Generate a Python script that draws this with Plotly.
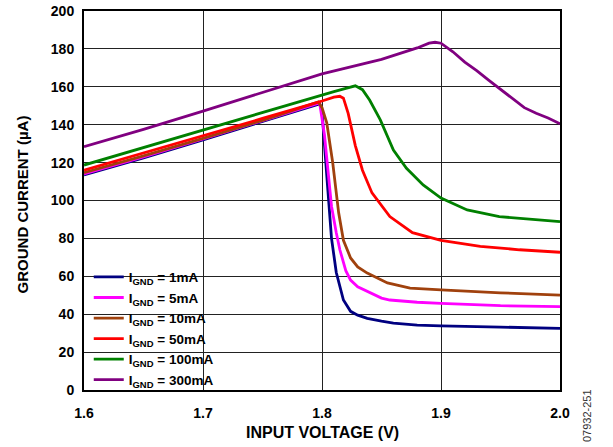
import plotly.graph_objects as go

# ground current (uA) vs input voltage (V)
v_1ma = [1.6, 1.65, 1.7, 1.75, 1.798, 1.800, 1.802, 1.805, 1.808, 1.812, 1.818, 1.824, 1.83, 1.838, 1.85, 1.86, 1.88, 1.9, 1.95, 2.0]
i_1ma = [113.5, 122.5, 132.0, 141.5, 151.0, 147.0, 132.0, 105.0, 80.0, 62.0, 47.5, 41.5, 39.5, 37.8, 36.3, 35.3, 34.2, 33.8, 33.2, 32.5]

v_5ma = [1.6, 1.65, 1.7, 1.75, 1.798, 1.802, 1.805, 1.808, 1.812, 1.815, 1.82, 1.824, 1.83, 1.838, 1.85, 1.857, 1.88, 1.9, 1.95, 2.0]
i_5ma = [114.0, 123.0, 132.5, 142.0, 151.5, 135.0, 115.0, 97.0, 83.0, 74.0, 63.0, 58.0, 54.5, 52.0, 48.5, 47.5, 46.3, 45.7, 44.5, 44.0]

v_10ma = [1.6, 1.65, 1.7, 1.75, 1.797, 1.8, 1.804, 1.809, 1.814, 1.818, 1.824, 1.83, 1.838, 1.855, 1.874, 1.9, 1.95, 2.0]
i_10ma = [114.7, 123.5, 132.8, 142.3, 152.0, 149.0, 141.0, 120.0, 93.5, 79.0, 69.7, 65.0, 61.7, 56.5, 53.8, 52.8, 51.3, 50.1]

v_50ma = [1.6, 1.65, 1.7, 1.75, 1.8, 1.81, 1.815, 1.818, 1.822, 1.828, 1.834, 1.842, 1.857, 1.876, 1.9, 1.933, 1.966, 2.0]
i_50ma = [116.0, 125.0, 134.0, 143.3, 152.5, 154.5, 155.0, 154.0, 146.0, 129.0, 116.0, 104.0, 91.5, 83.0, 79.0, 75.8, 74.0, 72.7]

v_100ma = [1.6, 1.65, 1.7, 1.75, 1.8, 1.81, 1.82, 1.828, 1.834, 1.84, 1.849, 1.86, 1.871, 1.885, 1.9, 1.922, 1.949, 1.975, 2.0]
i_100ma = [118.7, 128.0, 137.2, 146.5, 155.7, 157.5, 159.2, 160.5, 158.5, 153.0, 142.5, 126.6, 117.0, 108.2, 101.3, 95.0, 91.5, 90.0, 88.8]

v_300ma = [1.6, 1.65, 1.7, 1.75, 1.8, 1.85, 1.86, 1.87, 1.88, 1.89, 1.895, 1.9, 1.91, 1.92, 1.93, 1.94, 1.95, 1.96, 1.97, 1.98, 1.99, 2.0]
i_300ma = [128.4, 137.5, 147.2, 157.0, 166.8, 174.5, 176.5, 178.5, 180.5, 183.0, 183.5, 183.0, 178.5, 173.0, 168.5, 163.5, 158.5, 153.5, 149.0, 146.0, 143.5, 140.5]

x_ticks = [1.6, 1.7, 1.8, 1.9, 2.0]
x_tick_text = ['1.6', '1.7', '1.8', '1.9', '2.0']
y_ticks = [0, 20, 40, 60, 80, 100, 120, 140, 160, 180, 200]

series = [
    ('I<sub>GND</sub> = 1mA', v_1ma, i_1ma, '#000080'),
    ('I<sub>GND</sub> = 5mA', v_5ma, i_5ma, '#ff00ff'),
    ('I<sub>GND</sub> = 10mA', v_10ma, i_10ma, '#a0410d'),
    ('I<sub>GND</sub> = 50mA', v_50ma, i_50ma, '#ff0000'),
    ('I<sub>GND</sub> = 100mA', v_100ma, i_100ma, '#008000'),
    ('I<sub>GND</sub> = 300mA', v_300ma, i_300ma, '#800080'),
]

font = 'Arial, Liberation Sans, sans-serif'

fig = go.Figure()
for name, xs, ys, col in series:
    fig.add_trace(go.Scatter(
        x=xs, y=ys, mode='lines', name='<b>' + name + '</b>',
        line=dict(color=col, width=2.8),
    ))

fig.update_layout(
    width=613, height=447,
    margin=dict(l=84, r=53, t=11, b=57),
    paper_bgcolor='white',
    plot_bgcolor='white',
    font=dict(family=font, size=13, color='black'),
    legend=dict(
        x=0.01, y=-0.015, xanchor='left', yanchor='bottom',
        bgcolor='rgba(0,0,0,0)', borderwidth=0,
        font=dict(family=font, size=13.5, color='black'),
        tracegroupgap=0, itemwidth=30,
    ),
    # white box behind the legend hides the grid there
    shapes=[dict(
        type='rect', xref='paper', yref='paper',
        x0=0, x1=0.36, y0=0, y1=0.332,
        fillcolor='white', line=dict(width=0), layer='between',
    )],
    annotations=[
        dict(text='<b>INPUT VOLTAGE (V)</b>', x=0.5, y=-0.112,
             xref='paper', yref='paper', xanchor='center', yanchor='middle',
             showarrow=False, font=dict(family=font, size=16, color='black')),
        dict(text='<b>GROUND CURRENT (µA)</b>', x=-0.13, y=0.49,
             xref='paper', yref='paper', xanchor='center', yanchor='middle',
             textangle=-90, showarrow=False,
             font=dict(family=font, size=15, color='black')),
        dict(text='07932-251', x=1.0567, y=-0.066,
             xref='paper', yref='paper', xanchor='center', yanchor='middle',
             textangle=-90, showarrow=False,
             font=dict(family=font, size=11, color='#333')),
    ],
)

fig.update_xaxes(
    range=[1.6, 2.0], tickvals=x_ticks, ticktext=x_tick_text,
    showgrid=True, gridcolor='#222', gridwidth=1,
    showline=True, linecolor='black', linewidth=2, mirror=True,
    ticks='', ticklabelstandoff=9, automargin=False,
    tickfont=dict(family=font, size=14, color='black', weight='bold'),
    zeroline=False,
)
fig.update_yaxes(
    range=[0, 200], tickvals=y_ticks,
    showgrid=True, gridcolor='#222', gridwidth=1,
    showline=True, linecolor='black', linewidth=2, mirror=True,
    ticks='', ticklabelstandoff=5, automargin=False,
    tickfont=dict(family=font, size=14, color='black', weight='bold'),
    zeroline=False,
)

# drop the default 8px body margin so the figure fills the window
fig.write_html('out.html', config={'displayModeBar': False},
               post_script="document.body.style.margin='0px';")
